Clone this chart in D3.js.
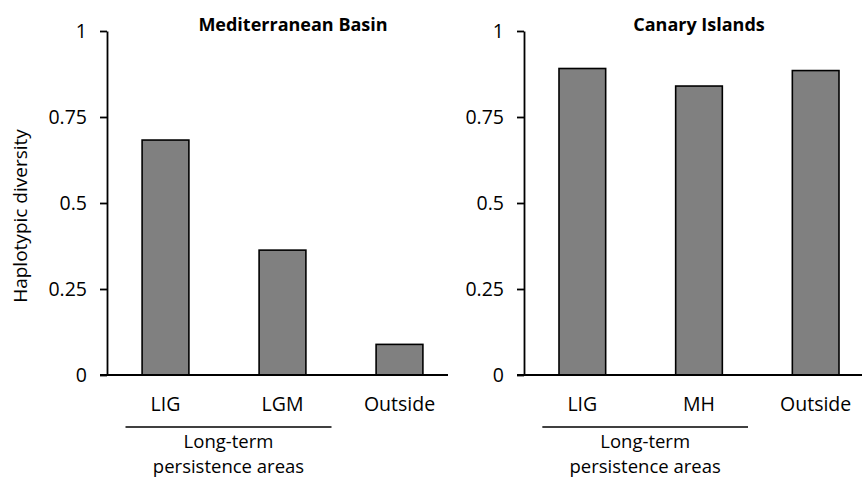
<!DOCTYPE html>
<html>
<head>
<meta charset="utf-8">
<style>
  body { margin: 0; background: #fff; }
  text { font-family: "Open Sans", sans-serif; fill: #000; }
</style>
</head>
<body>
<svg width="862" height="477"></svg>
<script src="https://d3js.org/d3.v7.min.js"></script>
<script>

var medCategories = ["LIG", "LGM", "Outside"],
    medValues = [0.683, 0.363, 0.089];

var canCategories = ["LIG", "MH", "Outside"],
    canValues = [0.891, 0.840, 0.885];

var yTicks = [0, 0.25, 0.5, 0.75, 1],
    yTickLabels = ["0", "0.25", "0.5", "0.75", "1"];

var svg = d3.select("svg");

var y = d3.scaleLinear()
    .domain([0, 1])
    .range([375, 31]);

function drawPanel(opts) {
    var g = svg.append("g");

    var x = d3.scaleBand()
        .domain(opts.categories)
        .range([opts.left, opts.right])
        .paddingInner(0.6)
        .paddingOuter(0.3);

    // bars
    g.selectAll("rect.bar")
        .data(opts.values)
        .enter().append("rect")
        .attr("class", "bar")
        .attr("x", function(d, i) { return x(opts.categories[i]); })
        .attr("width", x.bandwidth())
        .attr("y", function(d) { return y(d); })
        .attr("height", function(d) { return y(0) - y(d); })
        .attr("fill", "#808080")
        .attr("stroke", "#000")
        .attr("stroke-width", 1.6);

    // y axis
    var yAxis = g.append("g")
        .attr("transform", "translate(" + opts.left + ",0)")
        .call(d3.axisLeft(y)
            .tickValues(yTicks)
            .tickFormat(function(d, i) { return yTickLabels[i]; })
            .tickSize(7)
            .tickPadding(13)
            .tickSizeOuter(0));
    yAxis.select(".domain").attr("stroke-width", 1.8);
    yAxis.selectAll(".tick line").attr("stroke-width", 1.8);
    yAxis.selectAll(".tick text")
        .style("font-family", "'Open Sans', sans-serif")
        .style("font-size", "19.5px");

    // x axis line
    g.append("line")
        .attr("x1", opts.left - 7)
        .attr("x2", opts.axisEnd)
        .attr("y1", y(0))
        .attr("y2", y(0))
        .attr("stroke", "#000")
        .attr("stroke-width", 1.8);

    // category labels
    g.selectAll("text.cat")
        .data(opts.categories)
        .enter().append("text")
        .attr("class", "cat")
        .attr("x", function(d) { return x(d) + x.bandwidth() / 2; })
        .attr("y", 411)
        .attr("text-anchor", "middle")
        .style("font-size", "19.5px")
        .text(function(d) { return d; });

    // bracket for long-term persistence areas
    var c0 = x(opts.categories[0]) + x.bandwidth() / 2,
        c1 = x(opts.categories[1]) + x.bandwidth() / 2;
    g.append("line")
        .attr("x1", c0 - 40)
        .attr("x2", c1 + 49)
        .attr("y1", 427)
        .attr("y2", 427)
        .attr("stroke", "#000")
        .attr("stroke-width", 1.5);
    var mid = (c0 - 40 + c1 + 49) / 2;
    g.append("text")
        .attr("x", mid)
        .attr("y", 448)
        .attr("text-anchor", "middle")
        .style("font-size", "18.5px")
        .text("Long-term");
    g.append("text")
        .attr("x", mid)
        .attr("y", 473)
        .attr("text-anchor", "middle")
        .style("font-size", "18.5px")
        .text("persistence areas");

    // title
    g.append("text")
        .attr("x", opts.titleX)
        .attr("y", 31)
        .attr("text-anchor", "middle")
        .style("font-size", "18px")
        .style("font-weight", "bold")
        .text(opts.title);
}

drawPanel({
    categories: medCategories,
    values: medValues,
    left: 107,
    right: 458,
    axisEnd: 448,
    title: "Mediterranean Basin",
    titleX: 293
});

drawPanel({
    categories: canCategories,
    values: canValues,
    left: 524,
    right: 874,
    axisEnd: 862,
    title: "Canary Islands",
    titleX: 699
});

// y axis title
svg.append("text")
    .attr("transform", "translate(27,216) rotate(-90)")
    .attr("text-anchor", "middle")
    .style("font-size", "19px")
    .text("Haplotypic diversity");

</script>
</body>
</html>
